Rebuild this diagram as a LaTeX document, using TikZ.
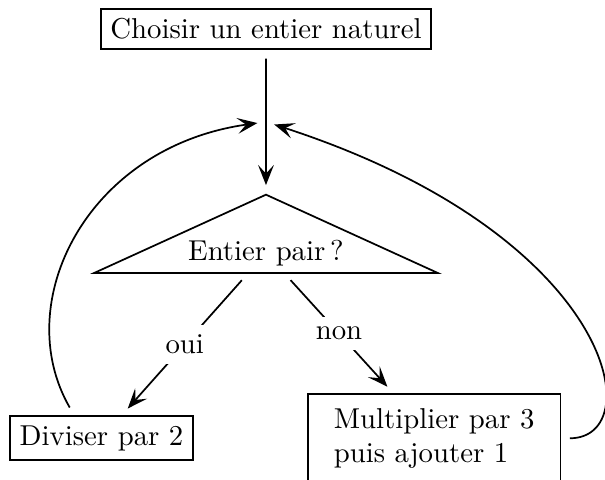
\documentclass[tikz,border=0pt]{standalone}
\usetikzlibrary{arrows.meta, positioning, shapes.geometric}

\begin{document}
\begin{tikzpicture}[
  node distance=50pt,
  bloc/.style={draw, semithick},
  cond/.style={draw, semithick, isosceles triangle, shape border rotate=90,
               isosceles triangle apex angle=131, inner sep=2.4pt},
  multi/.style={bloc, align=left, inner xsep=9pt, inner ysep=4.9pt},
  arr/.style={-{Stealth[length=7pt, width=5.5pt, inset=3pt]}, semithick,
              shorten >=3pt, shorten <=3pt},
  lbl/.style={fill=white}
]
  \useasboundingbox (-92.5pt,10.1pt) rectangle (117.9pt,-156.5pt);

  \node[bloc] (choix) {Choisir un entier naturel};
  \node[cond, below=of choix] (pair) {Entier pair\,?};
  \node[bloc, below left=56.3pt and 25.1pt of pair.center] (div) {Diviser par 2};
  \node[multi, below right=48.7pt and 14.3pt of pair.center] (mul) {Multiplier par 3\\puis ajouter 1};

  \draw[arr] (choix) -- coordinate[midway] (retour) (pair);
  \draw[arr] (pair) -- node[lbl] {oui} (div);
  \draw[arr] (pair) -- node[lbl] {non} (mul);
  \draw[arr] (div.140) to[out=120, in=188, out distance=45pt, in distance=63pt] (retour);
  \draw[arr] (mul) to[out=0, in=-18, out distance=31pt, in distance=128pt] (retour);
\end{tikzpicture}
\end{document}
